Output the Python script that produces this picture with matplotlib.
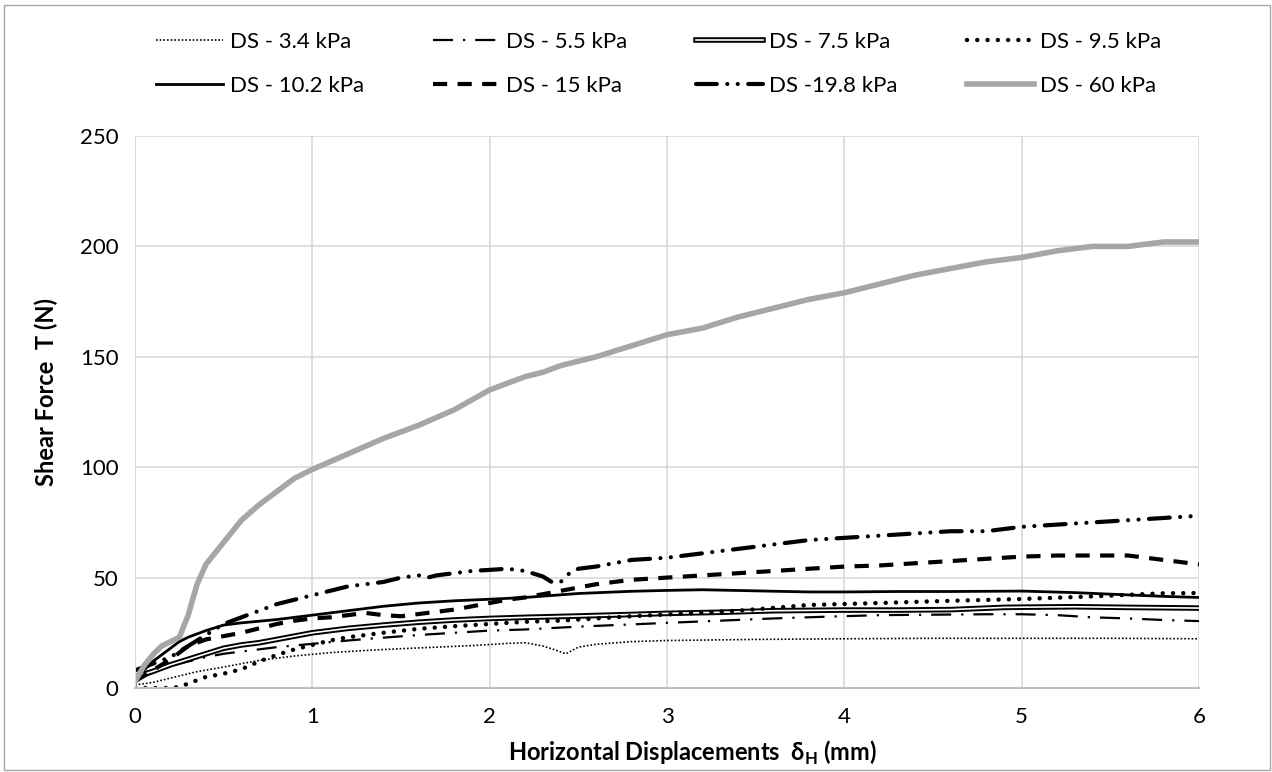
import matplotlib.pyplot as plt
import matplotlib.patheffects as pe
from matplotlib.patches import Rectangle

plt.rcParams['font.family'] = ['Lato', 'DejaVu Sans']
plt.rcParams['mathtext.fontset'] = 'custom'
plt.rcParams['mathtext.bf'] = 'Lato:bold'
plt.rcParams['mathtext.rm'] = 'Lato'

# data (displacement in mm, shear force in N)
x_34 = [0, 0.1, 0.2, 0.35, 0.5, 0.7, 0.9, 1.1, 1.3, 1.5, 1.7, 1.9, 2.1, 2.2, 2.3, 2.36, 2.43, 2.5, 2.6, 2.8, 3.0, 3.5, 4.0, 4.5, 5.0, 5.5, 6.0]
y_34 = [1.4, 2.5, 4.5, 7.4, 9.5, 12.5, 14.5, 16, 17, 17.8, 18.5, 19.2, 20.2, 20.5, 19, 17.5, 15.5, 18.5, 19.8, 21, 21.5, 22, 22.3, 22.5, 22.5, 22.5, 22.3]

x_55 = [0, 0.1, 0.2, 0.3, 0.4, 0.5, 0.6, 0.8, 1.0, 1.2, 1.4, 1.6, 1.8, 2.0, 2.2, 2.5, 2.8, 3.0, 3.3, 3.6, 3.9, 4.2, 4.5, 4.8, 5.0, 5.2, 5.4, 5.6, 5.8, 6.0]
y_55 = [3, 7, 10, 12, 14, 15.5, 16.5, 18.5, 20, 21.5, 22.8, 24, 25, 26, 26.5, 27.8, 28.8, 29.5, 30.5, 31.5, 32.3, 33, 33.2, 33.4, 33.4, 33, 32, 31.5, 30.8, 30.3]

x_75 = [0, 0.1, 0.2, 0.3, 0.4, 0.5, 0.6, 0.7, 0.8, 1.0, 1.2, 1.4, 1.6, 1.8, 2.0, 2.2, 2.5, 2.8, 3.0, 3.3, 3.6, 4.0, 4.3, 4.6, 4.9, 5.0, 5.3, 5.6, 6.0]
y_75 = [5, 7.5, 10.5, 13, 15.5, 18, 19.5, 20.5, 22, 25, 27, 28.5, 29.8, 30.8, 31.5, 32, 32.6, 33.3, 33.8, 34.3, 35, 35.3, 35.3, 35.5, 36.5, 36.6, 36.8, 36.5, 36.2]

x_95 = [0, 0.1, 0.2, 0.25, 0.3, 0.35, 0.4, 0.5, 0.6, 0.7, 0.8, 0.9, 1.0, 1.1, 1.2, 1.4, 1.6, 1.8, 2.0, 2.2, 2.4, 2.6, 2.8, 3.0, 3.4, 3.8, 4.2, 4.6, 5.0, 5.4, 5.8, 6.0]
y_95 = [0, 0, 0, 0.5, 2, 3.5, 5, 6.5, 8.5, 12, 15, 17.5, 19.5, 21.5, 23, 25, 26.8, 28, 29, 30, 30.5, 31.5, 32.5, 33.3, 35, 37.6, 38.5, 39.5, 40.3, 41.5, 42.9, 43]

x_102 = [0, 0.05, 0.1, 0.2, 0.25, 0.3, 0.4, 0.5, 0.6, 0.8, 1.0, 1.2, 1.4, 1.6, 1.8, 2.0, 2.2, 2.5, 2.8, 3.0, 3.2, 3.5, 3.8, 4.0, 4.3, 4.6, 5.0, 5.3, 5.5, 5.8, 6.0]
y_102 = [4, 8, 12, 18, 21, 23, 26, 28.5, 29.5, 31, 33, 35, 37, 38.5, 39.5, 40.2, 41, 42.8, 43.8, 44.2, 44.5, 44, 43.5, 43.5, 43.7, 43.7, 43.9, 43.2, 42.5, 41.5, 41]

x_15 = [0, 0.1, 0.2, 0.3, 0.4, 0.5, 0.6, 0.7, 0.8, 0.9, 1.0, 1.1, 1.2, 1.3, 1.4, 1.5, 1.6, 1.7, 1.8, 1.9, 2.0, 2.1, 2.2, 2.3, 2.4, 2.6, 2.8, 3.0, 3.2, 3.4, 3.6, 3.8, 4.0, 4.2, 4.4, 4.6, 4.8, 5.0, 5.2, 5.4, 5.6, 5.8, 6.0]
y_15 = [3, 8, 13, 19, 22, 23.5, 25, 27, 29, 30.5, 31.5, 32, 33, 34, 33, 32.5, 33.5, 34.5, 35.5, 37, 38.5, 40, 41, 42.5, 44, 47, 49, 50, 51, 52, 53, 54, 55, 55.5, 56.5, 57.5, 58.5, 59.5, 60, 60, 60, 58, 56]

x_198 = [0, 0.1, 0.2, 0.3, 0.4, 0.5, 0.6, 0.7, 0.8, 0.9, 1.0, 1.1, 1.2, 1.3, 1.4, 1.5, 1.6, 1.65, 1.7, 1.8, 1.9, 2.0, 2.1, 2.2, 2.3, 2.35, 2.4, 2.45, 2.5, 2.6, 2.8, 3.0, 3.2, 3.4, 3.6, 3.8, 4.0, 4.2, 4.4, 4.6, 4.8, 5.0, 5.2, 5.4, 5.6, 5.8, 6.0]
y_198 = [8, 11, 14, 19, 24, 29, 32, 35, 38, 40, 42, 44, 46, 47, 48, 50, 51, 50, 51, 52, 53, 53.5, 54, 53, 50.5, 48, 48, 52, 54, 55, 58, 59, 61, 63, 65, 67, 68, 69, 70, 71, 71, 73, 74, 75, 76, 77, 78]

x_60 = [0, 0.05, 0.1, 0.15, 0.2, 0.25, 0.3, 0.35, 0.4, 0.45, 0.5, 0.6, 0.7, 0.8, 0.9, 1.0, 1.2, 1.4, 1.6, 1.8, 2.0, 2.2, 2.3, 2.4, 2.6, 2.8, 3.0, 3.2, 3.4, 3.6, 3.8, 4.0, 4.2, 4.4, 4.6, 4.8, 5.0, 5.2, 5.4, 5.6, 5.8, 6.0]
y_60 = [3, 10, 15, 19, 21, 23, 33, 47, 56, 61, 66, 76, 83, 89, 95, 99, 106, 113, 119, 126, 135, 141, 143, 146, 150, 155, 160, 163, 168, 172, 176, 179, 183, 187, 190, 193, 195, 198, 200, 200, 202, 202]

fig = plt.figure(figsize=(12.72, 7.72), dpi=100)
ax = fig.add_axes([135 / 1272, 1 - 688 / 772, 1064 / 1272, 552 / 772])

ax.plot(x_34, y_34, color='black', lw=1.2, ls=(0, (1, 1.2)), label='DS - 3.4 kPa')
ax.plot(x_55, y_55, color='black', lw=1.6, ls=(0, (9, 4.5, 1, 4.5)), label='DS - 5.5 kPa')
ax.plot(x_75, y_75, color='white', lw=1.2, label='DS - 7.5 kPa',
        path_effects=[pe.Stroke(linewidth=4, foreground='black'), pe.Normal()])
ax.plot(x_95, y_95, color='black', lw=3.2, ls=(0, (0.01, 2.3)), dash_capstyle='round', label='DS - 9.5 kPa')
ax.plot(x_102, y_102, color='black', lw=2, label='DS - 10.2 kPa')
ax.plot(x_15, y_15, color='black', lw=3, ls=(0, (3.4, 2.5)), label='DS - 15 kPa')
ax.plot(x_198, y_198, color='black', lw=3, ls=(0, (5, 2.5, 0.01, 2.5, 0.01, 2.5)),
        dash_capstyle='round', label='DS -19.8 kPa')
ax.plot(x_60, y_60, color='#a6a6a6', lw=4, label='DS - 60 kPa')

ax.set_xlim(0, 6)
ax.set_ylim(0, 250)
ax.set_xticks(range(0, 7))
ax.set_yticks(range(0, 251, 50))
ax.grid(True, color='#d9d9d9', lw=1.2)
ax.set_axisbelow(True)
for s in ['top', 'right']:
    ax.spines[s].set_visible(False)
ax.spines['left'].set_color('#d9d9d9')
ax.spines['bottom'].set_color('#bfbfbf')
ax.spines['bottom'].set_linewidth(1.5)
ax.tick_params(axis='x', length=0, labelsize=16, pad=14)
ax.tick_params(axis='y', length=0, labelsize=16, pad=12)

ax.set_xlabel(r'Horizontal Displacements  δ$_\mathbf{H}$ (mm)', fontsize=17, fontweight='bold')
ax.xaxis.set_label_coords((693 - 135) / 1064, -0.092)
ax.set_ylabel('Shear Force  T (N)', fontsize=17, fontweight='bold')
ax.yaxis.set_label_coords(-0.072, (688 - 392) / 552)

# Excel fills the legend row by row
handles, labels = ax.get_legend_handles_labels()
order = [0, 4, 1, 5, 2, 6, 3, 7]
fig.legend([handles[i] for i in order], [labels[i] for i in order],
           loc='upper center', bbox_to_anchor=(0.518, 0.985), ncol=4, frameon=False,
           fontsize=16, handlelength=3.0, handletextpad=0.3, columnspacing=3.1, labelspacing=1.1)

fig.patches.append(Rectangle((4 / 1272, 2 / 772), 1266 / 1272, 765 / 772, transform=fig.transFigure,
                             fill=False, edgecolor='#a6a6a6', lw=1))

fig.savefig('out.png', dpi=100)
